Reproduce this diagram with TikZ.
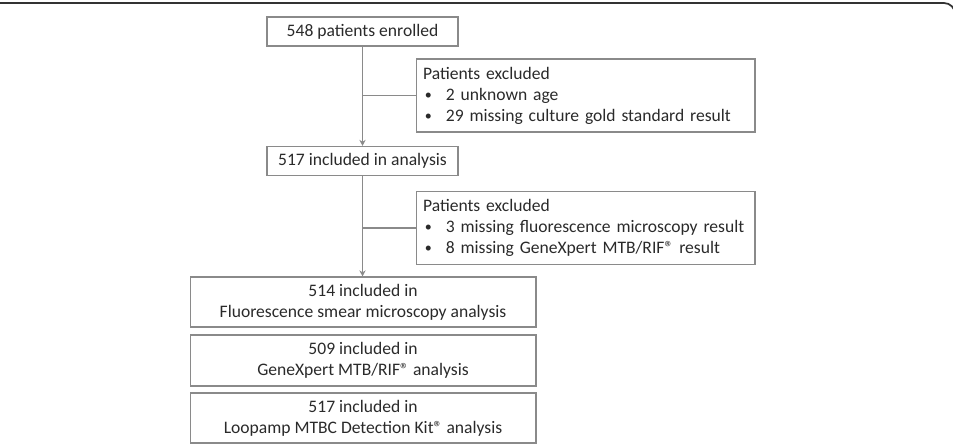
\documentclass[tikz,border=0pt]{standalone}
\usepackage{fontspec}
\setmainfont{Carlito}
\usepackage{xcolor}
\usepackage{tikz}
\usetikzlibrary{arrows.meta}

\definecolor{boxline}{HTML}{8A8A8A}
\definecolor{flowtext}{HTML}{2A2A2A}
\newcommand{\bulletline}[1]{\makebox[13pt][l]{\hspace{1pt}\raisebox{0.1ex}{\footnotesize\textbullet}}#1}

\begin{document}
\begin{tikzpicture}[x=0.02cm, y=-0.02cm, >={Stealth[length=3.5pt,width=3.5pt]},
  every node/.style={font=\fontsize{10}{12}\selectfont, text=flowtext},
  stage/.style={rectangle, draw=boxline, line width=0.6pt, align=center, minimum width=3.82cm, minimum height=0.58cm, inner sep=0pt},
  excluded/.style={rectangle, draw=boxline, line width=0.6pt, align=left, text width=6.5cm, minimum height=1.46cm, inner xsep=0.14cm, inner ysep=0pt},
  assay/.style={rectangle, draw=boxline, line width=0.6pt, align=center, minimum width=6.92cm, minimum height=1.0cm, inner sep=0pt},
  flow/.style={draw=boxline, line width=0.6pt}]

  \useasboundingbox (0,0) rectangle (953,444);
  \clip (0,0) rectangle (953,444);
  % frame of the figure
  \draw[line width=1pt, black!80, rounded corners=0.22cm] (-20,3) -- (955,3) -- (955,60);

  \node[stage] (enrolled) at (362.5,31.5) {548 patients enrolled};
  \node[excluded] (excl1) at (585.5,95.5) {Patients excluded\\
    \bulletline{2 unknown age}\\
    \bulletline{29 missing culture gold standard result}};
  \node[stage] (included) at (362.5,161) {517 included in analysis};
  \node[excluded] (excl2) at (585.5,228) {Patients excluded\\
    \bulletline{3 missing fluorescence microscopy result}\\
    \bulletline{8 missing GeneXpert MTB/RIF\textregistered{} result}};
  \node[assay] (smear) at (363,302) {514 included in\\Fluorescence smear microscopy analysis};
  \node[assay, minimum height=1.02cm] (xpert) at (363,360.5) {509 included in\\GeneXpert MTB/RIF\textregistered{} analysis};
  \node[assay] (lamp) at (363,418) {517 included in\\Loopamp MTBC Detection Kit\textregistered{} analysis};

  \draw[flow, ->] (enrolled.south) -- (included.north);
  \draw[flow] (enrolled.south |- excl1.west) -- (excl1.west);
  \draw[flow, ->] (included.south) -- (included.south |- smear.north);
  \draw[flow] (included.south |- excl2.west) -- (excl2.west);
\end{tikzpicture}
\end{document}
